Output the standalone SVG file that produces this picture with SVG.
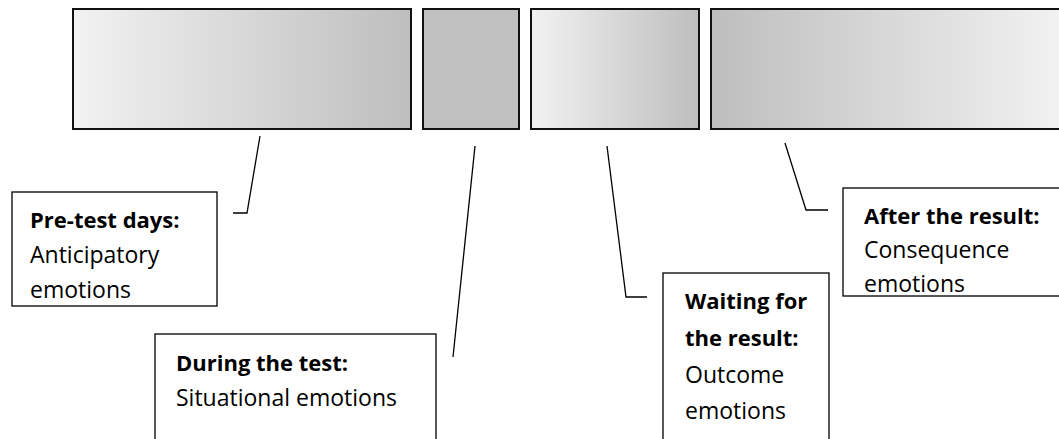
<svg xmlns="http://www.w3.org/2000/svg" width="1059" height="439" viewBox="0 0 1059 439">
  <style>
    .bar { stroke: #111; stroke-width: 2; }
    .box { fill: #fff; stroke: #000; stroke-width: 1.3; }
    .conn { fill: none; stroke: #000; stroke-width: 1.3; }
    text { font-family: "Open Sans", "Liberation Sans", sans-serif; font-size: 23px; fill: #000; }
    .b { font-weight: bold; font-size: 22px; }
  </style>
  <defs>
    <linearGradient id="lightToDark" x1="0" y1="0" x2="1" y2="0">
      <stop offset="0" stop-color="#f2f2f2"/>
      <stop offset="1" stop-color="#bebebe"/>
    </linearGradient>
    <linearGradient id="darkToLight" x1="0" y1="0" x2="1" y2="0">
      <stop offset="0" stop-color="#bebebe"/>
      <stop offset="1" stop-color="#f2f2f2"/>
    </linearGradient>
  </defs>

  <g id="bar-pretest"><rect class="bar" x="73" y="9" width="338" height="120" fill="url(#lightToDark)"/></g>
  <g id="bar-during"><rect class="bar" x="423" y="9" width="96" height="120" fill="#c0c0c0"/></g>
  <g id="bar-waiting"><rect class="bar" x="531" y="9" width="168" height="120" fill="url(#lightToDark)"/></g>
  <g id="bar-after"><rect class="bar" x="711" y="9" width="352" height="120" fill="url(#darkToLight)"/></g>

  <g id="connectors">
    <polyline class="conn" points="260,136 247,213 233,213"/>
    <polyline class="conn" points="475,146 453,357"/>
    <polyline class="conn" points="607,146 626,297 647,297"/>
    <polyline class="conn" points="785,143 806,210 828,210"/>
  </g>

  <g id="box-pretest">
    <rect class="box" x="12" y="192" width="205" height="114"/>
    <text class="b" x="30" y="228">Pre-test days:</text>
    <text x="30" y="263">Anticipatory</text>
    <text x="30" y="298">emotions</text>
  </g>
  <g id="box-during">
    <rect class="box" x="155" y="334" width="281" height="120"/>
    <text class="b" x="176" y="371">During the test:</text>
    <text x="176" y="406">Situational emotions</text>
  </g>
  <g id="box-waiting">
    <rect class="box" x="663" y="273" width="166" height="180"/>
    <text class="b" x="685" y="309">Waiting for</text>
    <text class="b" x="685" y="346">the result:</text>
    <text x="685" y="383">Outcome</text>
    <text x="685" y="419">emotions</text>
  </g>
  <g id="box-after">
    <rect class="box" x="843" y="188" width="230" height="108"/>
    <text class="b" x="864" y="224">After the result:</text>
    <text x="864" y="258">Consequence</text>
    <text x="864" y="292">emotions</text>
  </g>
</svg>
